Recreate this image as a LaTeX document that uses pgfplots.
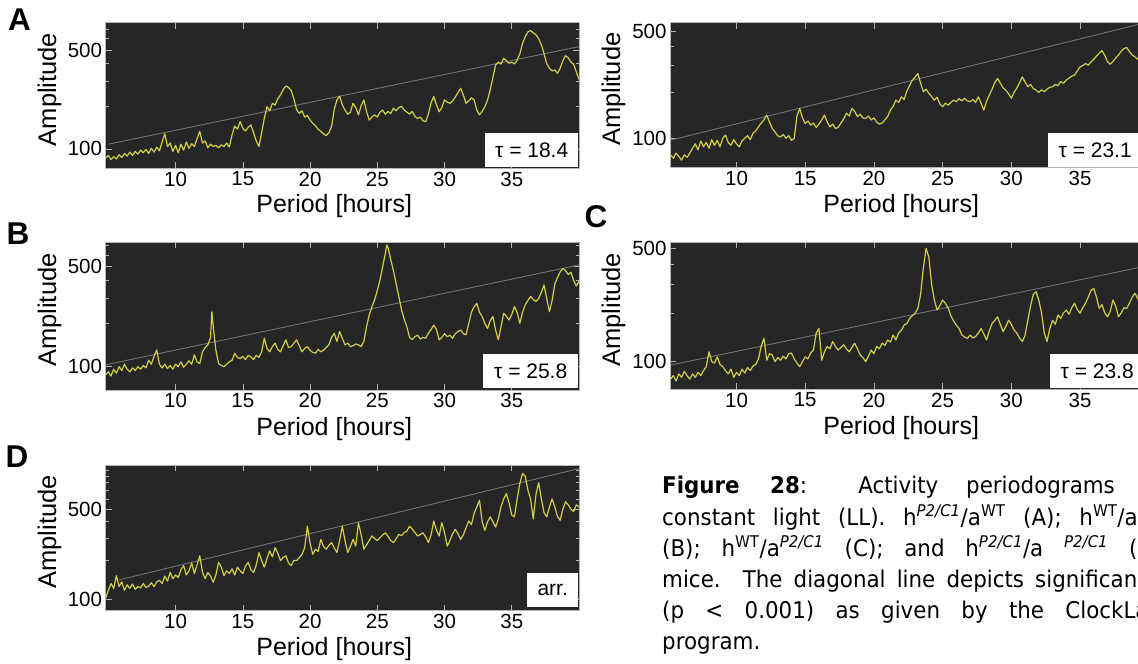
\documentclass[border=0pt]{standalone}
\usepackage{pgfplots}
\pgfplotsset{compat=1.18}
\usepackage{pgfplotstable}
\usepackage{graphicx}
\usepackage{fontspec}
\setmainfont{Liberation Sans}
\newfontfamily\capfont{DejaVu Sans}
\definecolor{bgc}{HTML}{262626}
\definecolor{curve}{HTML}{D2CE48}
\definecolor{sigl}{HTML}{707070}
\definecolor{framec}{HTML}{B4B4B4}
\newcommand\fs[1]{\fontsize{#1}{#1}\selectfont}
\newcommand\capline[1]{\scalebox{0.93}[1]{\makebox[537.6pt][s]{#1}}}
\newcommand\spi[1]{\textsuperscript{\itshape #1}}

\pgfplotstableread{
x y
4.8 86
5.0 90
5.2 84
5.4 88
5.6 85
5.8 91
6.0 87
6.2 93
6.4 89
6.6 95
6.8 90
7.0 96
7.2 92
7.4 98
7.6 94
7.8 99
8.0 93
8.2 101
8.4 95
8.6 103
8.8 97
9.0 112
9.2 128
9.4 104
9.6 110
9.8 96
10.0 106
10.2 94
10.4 108
10.6 98
10.8 112
11.0 101
11.2 109
11.4 104
11.6 118
11.8 133
12.0 110
12.2 114
12.4 102
12.6 108
12.8 104
13.0 106
13.2 102
13.4 107
13.6 104
13.8 110
14.0 103
14.2 126
14.4 145
14.6 138
14.8 156
15.0 140
15.2 134
15.4 142
15.6 148
15.8 130
16.0 114
16.2 104
16.4 130
16.6 165
16.8 199
17.0 186
17.2 210
17.4 204
17.6 226
17.8 240
18.0 262
18.2 278
18.4 272
18.6 258
18.8 225
19.0 190
19.2 178
19.4 186
19.6 168
19.8 172
20.0 160
20.2 152
20.4 146
20.6 138
20.8 133
21.0 128
21.2 124
21.4 130
21.6 144
21.8 190
22.0 222
22.2 236
22.4 205
22.6 188
22.8 176
23.0 182
23.2 210
23.4 196
23.6 174
23.8 202
24.0 222
24.2 184
24.4 160
24.6 168
24.8 174
25.0 168
25.2 182
25.4 188
25.6 176
25.8 184
26.0 178
26.2 194
26.4 186
26.6 196
26.8 200
27.0 188
27.2 182
27.4 176
27.6 184
27.8 170
28.0 164
28.2 168
28.4 158
28.6 156
28.8 176
29.0 212
29.2 234
29.4 205
29.6 183
29.8 196
30.0 222
30.2 214
30.4 210
30.6 218
30.8 232
31.0 250
31.2 268
31.4 240
31.6 210
31.8 218
32.0 230
32.2 222
32.4 188
32.6 174
32.8 184
33.0 199
33.2 222
33.4 262
33.6 320
33.8 392
34.0 410
34.2 398
34.4 437
34.6 420
34.8 402
35.0 410
35.2 398
35.4 424
35.6 470
35.8 556
36.0 620
36.2 670
36.4 686
36.6 660
36.8 640
37.0 600
37.2 545
37.4 470
37.6 400
37.8 372
38.0 355
38.2 362
38.4 342
38.6 372
38.8 420
39.0 455
39.2 440
39.4 410
39.6 397
39.8 350
40.0 310
}\dataA

\pgfplotstableread{
x y
5.2 78
5.4 74
5.6 80
5.8 76
6.0 72
6.2 78
6.4 75
6.6 80
6.8 86
7.0 92
7.2 84
7.4 96
7.6 88
7.8 94
8.0 86
8.2 98
8.4 90
8.6 97
8.8 88
9.0 100
9.2 105
9.4 94
9.6 90
9.8 98
10.0 92
10.2 88
10.4 96
10.6 100
10.8 104
11.0 98
11.2 108
11.4 112
11.6 119
11.8 126
12.0 132
12.2 142
12.4 128
12.6 116
12.8 110
13.0 104
13.2 102
13.4 106
13.6 100
13.8 104
14.0 97
14.2 100
14.4 140
14.6 157
14.8 136
15.0 125
15.2 130
15.4 122
15.6 126
15.8 118
16.0 124
16.2 132
16.4 142
16.6 128
16.8 119
17.0 124
17.2 116
17.4 118
17.6 126
17.8 134
18.0 146
18.2 140
18.4 157
18.6 150
18.8 139
19.0 144
19.2 136
19.4 135
19.6 140
19.8 132
20.0 136
20.2 128
20.4 124
20.6 126
20.8 132
21.0 139
21.2 153
21.4 162
21.6 178
21.8 172
22.0 187
22.2 180
22.4 204
22.6 222
22.8 241
23.0 252
23.2 266
23.4 230
23.6 202
23.8 210
24.0 197
24.2 188
24.4 178
24.6 186
24.8 168
25.0 161
25.2 170
25.4 165
25.6 172
25.8 178
26.0 174
26.2 182
26.4 176
26.6 183
26.8 176
27.0 174
27.2 180
27.4 172
27.6 187
27.8 170
28.0 153
28.2 175
28.4 192
28.6 210
28.8 232
29.0 247
29.2 230
29.4 214
29.6 207
29.8 196
30.0 183
30.2 200
30.4 213
30.6 232
30.8 253
31.0 234
31.2 218
31.4 226
31.6 212
31.8 207
32.0 200
32.2 208
32.4 202
32.6 210
32.8 216
33.0 218
33.2 226
33.4 222
33.6 236
33.8 230
34.0 241
34.2 248
34.4 256
34.6 260
34.8 276
35.0 294
35.2 300
35.4 309
35.6 302
35.8 317
36.0 330
36.2 346
36.4 362
36.6 376
36.8 350
37.0 318
37.2 306
37.4 320
37.6 336
37.8 352
38.0 372
38.2 388
38.4 394
38.6 370
38.8 352
39.0 342
39.2 330
39.4 320
39.6 305
39.8 296
40.0 290
}\dataE

\pgfplotstableread{
x y
4.8 88
5.0 92
5.2 86
5.4 96
5.6 90
5.8 100
6.0 94
6.2 104
6.4 96
6.6 92
6.8 98
7.0 94
7.2 100
7.4 96
7.6 102
7.8 98
8.0 111
8.2 104
8.4 118
8.6 131
8.8 104
9.0 98
9.2 104
9.4 97
9.6 102
9.8 96
10.0 104
10.2 100
10.4 108
10.6 99
10.8 104
11.0 110
11.2 104
11.4 121
11.6 108
11.8 105
12.0 127
12.2 136
12.4 142
12.6 160
12.7 242
12.8 190
13.0 130
13.2 105
13.4 102
13.6 100
13.8 104
14.0 108
14.2 111
14.4 124
14.6 116
14.8 114
15.0 118
15.2 112
15.4 120
15.6 117
15.8 112
16.0 120
16.2 116
16.4 127
16.6 158
16.8 134
17.0 127
17.2 138
17.4 146
17.6 132
17.8 127
18.0 140
18.2 154
18.4 136
18.6 138
18.8 146
19.0 154
19.2 140
19.4 127
19.6 134
19.8 138
20.0 130
20.2 126
20.4 124
20.6 132
20.8 127
21.0 130
21.2 136
21.4 142
21.6 160
21.8 171
22.0 150
22.2 176
22.4 158
22.6 142
22.8 146
23.0 138
23.2 140
23.4 144
23.6 142
23.8 138
24.0 150
24.2 190
24.4 230
24.6 262
24.8 292
25.0 340
25.2 404
25.4 500
25.6 620
25.7 710
25.8 680
26.0 560
26.2 470
26.4 380
26.6 310
26.8 250
27.0 215
27.2 190
27.4 160
27.6 155
27.8 162
28.0 166
28.2 156
28.4 160
28.6 158
28.8 171
29.0 182
29.2 195
29.4 182
29.6 154
29.8 160
30.0 170
30.2 162
30.4 166
30.6 158
30.8 170
31.0 176
31.2 180
31.4 170
31.6 167
31.8 200
32.0 240
32.2 262
32.4 277
32.6 240
32.8 224
33.0 200
33.2 185
33.4 210
33.6 224
33.8 180
34.0 154
34.2 190
34.4 236
34.6 225
34.8 212
35.0 232
35.2 263
35.4 240
35.6 201
35.8 240
36.0 270
36.2 290
36.4 309
36.6 295
36.8 285
37.0 300
37.2 330
37.4 372
37.6 300
37.8 242
38.0 290
38.2 377
38.4 420
38.6 460
38.8 485
39.0 470
39.2 440
39.4 457
39.6 400
39.8 366
40.0 395
}\dataB

\pgfplotstableread{
x y
5.2 78
5.4 82
5.6 76
5.8 84
6.0 80
6.2 87
6.4 82
6.6 78
6.8 84
7.0 80
7.2 86
7.4 82
7.6 88
7.8 93
8.0 115
8.2 100
8.4 98
8.6 107
8.8 96
9.0 93
9.2 88
9.4 84
9.6 90
9.8 80
10.0 86
10.2 82
10.4 90
10.6 85
10.8 92
11.0 88
11.2 94
11.4 96
11.6 104
11.8 125
12.0 139
12.2 102
12.4 112
12.6 110
12.8 100
13.0 106
13.2 102
13.4 108
13.6 104
13.8 112
14.0 113
14.2 104
14.4 98
14.6 93
14.8 100
15.0 107
15.2 104
15.4 113
15.6 118
15.8 150
16.0 160
16.2 102
16.4 115
16.6 124
16.8 120
17.0 133
17.2 124
17.4 118
17.6 122
17.8 127
18.0 120
18.2 115
18.4 122
18.6 130
18.8 120
19.0 110
19.2 106
19.4 100
19.6 108
19.8 118
20.0 112
20.2 124
20.4 120
20.6 130
20.8 126
21.0 136
21.2 132
21.4 146
21.6 136
21.8 150
22.0 156
22.2 168
22.4 172
22.6 185
22.8 192
23.0 199
23.2 213
23.4 260
23.6 380
23.8 500
24.0 440
24.2 300
24.4 240
24.6 208
24.8 222
25.0 240
25.2 229
25.4 215
25.6 192
25.8 178
26.0 168
26.2 160
26.4 146
26.6 142
26.8 139
27.0 146
27.2 140
27.4 143
27.6 150
27.8 160
28.0 148
28.2 136
28.4 155
28.6 172
28.8 180
29.0 189
29.2 170
29.4 153
29.6 165
29.8 180
30.0 170
30.2 157
30.4 150
30.6 140
30.8 133
31.0 145
31.2 180
31.4 220
31.6 260
31.8 270
32.0 240
32.2 200
32.4 150
32.6 133
32.8 160
33.0 180
33.2 170
33.4 194
33.6 185
33.8 200
34.0 208
34.2 196
34.4 215
34.6 229
34.8 210
35.0 199
35.2 215
35.4 229
35.6 250
35.8 275
36.0 283
36.2 250
36.4 213
36.6 225
36.8 200
37.0 189
37.2 205
37.4 240
37.6 220
37.8 189
38.0 200
38.2 215
38.4 213
38.6 230
38.8 250
39.0 264
39.2 245
39.4 223
39.6 240
39.8 255
40.0 248
}\dataC

\pgfplotstableread{
x y
4.8 102
5.0 118
5.2 133
5.4 122
5.6 153
5.8 126
6.0 137
6.2 118
6.4 130
6.6 122
6.8 132
7.0 120
7.2 126
7.4 123
7.6 133
7.8 124
8.0 127
8.2 135
8.4 126
8.6 137
8.8 141
9.0 133
9.2 152
9.4 139
9.6 162
9.8 145
10.0 155
10.2 148
10.4 170
10.6 183
10.8 155
11.0 167
11.2 192
11.4 159
11.6 185
11.8 218
12.0 163
12.2 145
12.4 162
12.6 152
12.8 136
13.0 155
13.2 194
13.4 178
13.6 153
13.8 167
14.0 159
14.2 173
14.4 155
14.6 178
14.8 167
15.0 159
15.2 182
15.4 194
15.6 170
15.8 162
16.0 185
16.2 231
16.4 200
16.6 178
16.8 207
17.0 238
17.2 214
17.4 252
17.6 229
17.8 200
18.0 211
18.2 218
18.4 192
18.6 183
18.8 201
19.0 200
19.2 211
19.4 224
19.6 251
19.8 369
20.0 273
20.2 224
20.4 245
20.6 236
20.8 292
21.0 258
21.2 245
21.4 262
21.6 276
21.8 251
22.0 231
22.2 286
22.4 369
22.6 286
22.8 231
23.0 258
23.2 292
23.4 259
23.6 393
23.8 316
24.0 245
24.2 265
24.4 286
24.6 310
24.8 297
25.0 286
25.2 301
25.4 316
25.6 328
25.8 308
26.0 286
26.2 276
26.4 295
26.6 319
26.8 312
27.0 330
27.2 338
27.4 369
27.6 351
27.8 330
28.0 310
28.2 319
28.4 328
28.6 305
28.8 276
29.0 316
29.2 405
29.4 344
29.6 310
29.8 393
30.0 330
30.2 259
30.4 286
30.6 323
30.8 349
31.0 323
31.2 292
31.4 316
31.6 359
31.8 405
32.0 380
32.2 464
32.4 520
32.6 587
32.8 400
33.0 343
33.2 400
33.4 436
33.6 400
33.8 364
34.0 420
34.2 522
34.4 600
34.6 660
34.8 560
35.0 450
35.2 436
35.4 600
35.6 790
35.8 943
36.0 900
36.2 701
36.4 600
36.6 420
36.8 650
37.0 800
37.2 600
37.4 470
37.6 436
37.8 520
38.0 600
38.2 520
38.4 440
38.6 410
38.8 500
39.0 570
39.2 540
39.4 500
39.6 480
39.8 540
40.0 520
}\dataD

\pgfplotsset{
  mypanel/.style={
    scale only axis, anchor=north west,
    axis background/.style={fill=bgc},
    axis line style={framec, line width=0.8pt},
    tick align=inside,
    major tick length=6pt, minor tick length=3.5pt,
    every tick/.style={framec, line width=0.6pt},
    xtick={10,15,20,25,30,35}, xticklabels={10,15,20,25,30,35},
    ytick={100,500}, yticklabels={100,500},
    minor ytick={200,300,400,600,700,800,900,1000},
    ticklabel style={font=\fs{20.5}, text=black},
    xlabel={Period [hours]}, ylabel={Amplitude},
    every axis x label/.style={at={(rel axis cs:0.483,-0.306)}, anchor=base, font=\fs{25}},
    every axis y label/.style={at={(rel axis cs:-0.118,0.541)}, rotate=90, anchor=center, font=\fs{25.5}},
  },
  myleft/.style={mypanel, width=473.5pt, xmin=4.79, xmax=40},
  myright/.style={mypanel, width=478.7pt, xmin=5.16, xmax=40},
  mysig/.style={sigl, line width=0.9pt, no marks},
  myper/.style={curve, line width=1.2pt, no marks, line join=round},
}

\begin{document}
\begin{tikzpicture}
\useasboundingbox (0pt,0pt) rectangle (1138pt,664pt);
\clip (0pt,0pt) rectangle (1138pt,664pt);

% A
\begin{axis}[ymode=log, myleft, at={(105.5pt,641.3pt)}, height=145.6pt, ymin=73, ymax=779]
\addplot[mysig] coordinates {(5.0,108) (40,528)};
\addplot[myper] table {\dataA};
\end{axis}
% top right
\begin{axis}[ymode=log, myright, at={(670pt,641.3pt)}, height=145.0pt, ymin=64.2, ymax=573]
\addplot[mysig] coordinates {(5.25,97.5) (40,580)};
\addplot[myper] table {\dataE};
\end{axis}
% B
\begin{axis}[ymode=log, myleft, at={(105.5pt,421.7pt)}, height=147.7pt, ymin=68.7, ymax=740]
\addplot[mysig] coordinates {(4.8,103) (40,514)};
\addplot[myper] table {\dataB};
\end{axis}
% C
\begin{axis}[ymode=log, myright, at={(670pt,421.7pt)}, height=147.0pt, ymin=67.5, ymax=545]
\addplot[mysig] coordinates {(5.25,95.4) (40,392)};
\addplot[myper] table {\dataC};
\end{axis}
% D
\begin{axis}[ymode=log, myleft, at={(105.5pt,199pt)}, height=145.7pt, ymin=82, ymax=1098]
\addplot[mysig] coordinates {(5.8,142) (40,1030)};
\addplot[myper] table {\dataD};
\end{axis}

% value boxes
\tikzset{valbox/.style={fill=white, inner sep=0pt, minimum height=34pt, anchor=south west, font=\fs{21}}}
\node[valbox, minimum width=93pt] at (485pt,497pt) {τ = 18.4};
\node[valbox, minimum width=94pt] at (1048pt,497pt) {τ = 23.1};
\node[valbox, minimum width=95pt] at (483pt,276pt) {τ = 25.8};
\node[valbox, minimum width=94pt] at (1050pt,276pt) {τ = 23.8};
\node[valbox, minimum width=51pt] at (527pt,57pt) {arr.};

% panel letters
\tikzset{panelletter/.style={font=\bfseries\fs{31.5}, inner sep=0pt}}
\node[panelletter] at (19.5pt,644.5pt) {A};
\node[panelletter] at (18pt,430pt) {B};
\node[panelletter] at (596pt,447.5pt) {C};
\node[panelletter] at (17pt,207.5pt) {D};

% caption
\tikzset{captext/.style={anchor=base west, inner sep=0pt, font=\capfont\fs{23}}}
\node[captext] at (662pt,170pt) {\capline{\textbf{Figure 28}: Activity periodograms in}};
\node[captext] at (662pt,138.8pt) {\capline{constant light (LL). h\spi{P2/C1}/a\textsuperscript{WT} (A); h\textsuperscript{WT}/a\textsuperscript{WT}}};
\node[captext] at (662pt,107.6pt) {\capline{(B); h\textsuperscript{WT}/a\spi{P2/C1} (C); and h\spi{P2/C1}/a \spi{P2/C1} (D)}};
\node[captext] at (662pt,76.4pt) {\capline{mice. The diagonal line depicts significance}};
\node[captext] at (662pt,45.2pt) {\capline{(p < 0.001) as given by the ClockLab}};
\node[captext] at (662pt,14pt) {\scalebox{0.93}[1]{program.}};
\end{tikzpicture}
\end{document}
